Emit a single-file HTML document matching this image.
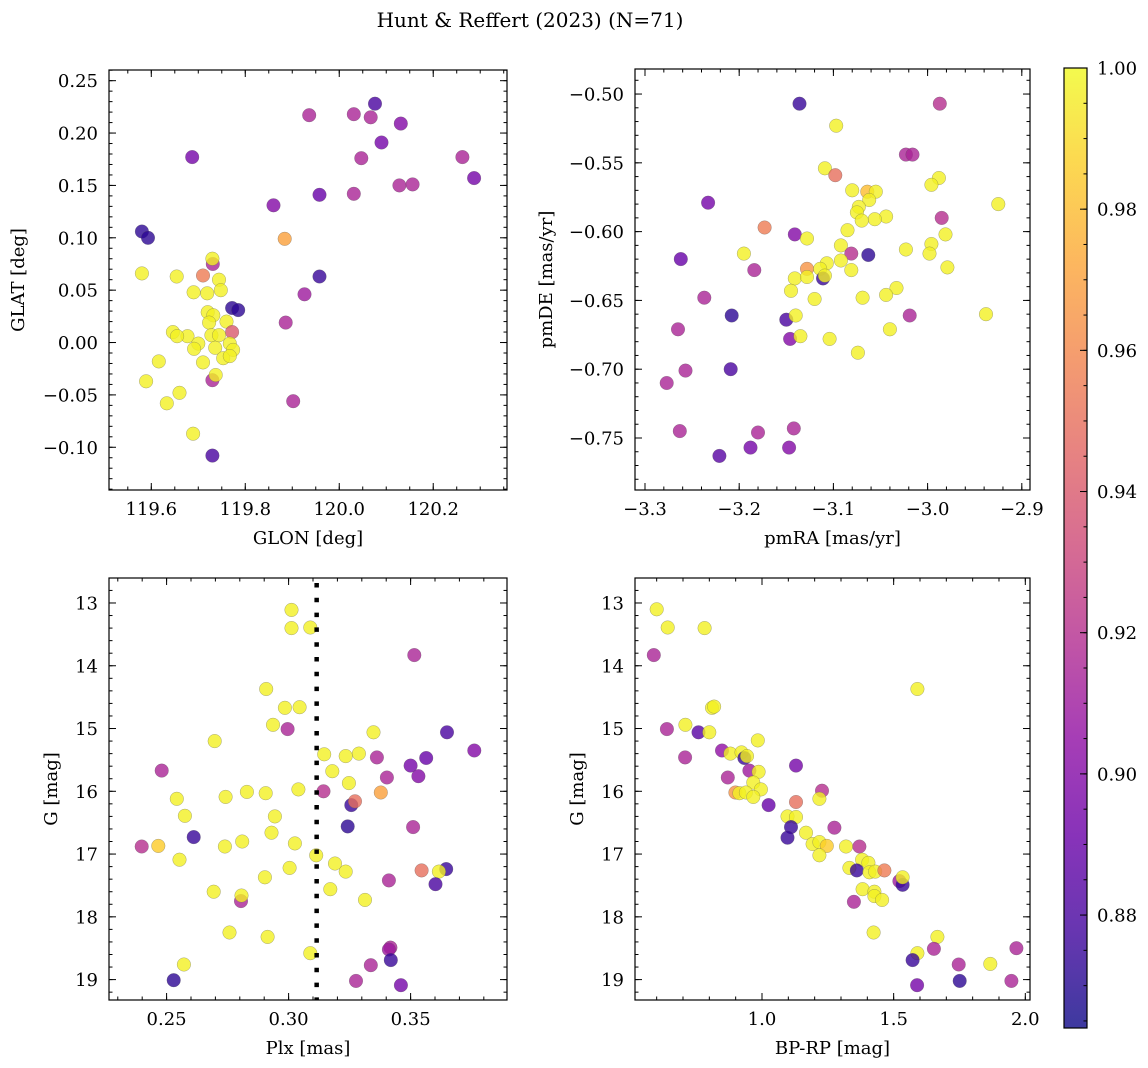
<!DOCTYPE html>
<html><head><meta charset="utf-8"><style>
html,body{margin:0;padding:0;background:#fff;}
svg{display:block;font-family:"DejaVu Serif","Liberation Serif",serif;}
</style></head><body>
<svg id="fig" width="1148" height="1068" viewBox="0 0 1148 1068" xmlns="http://www.w3.org/2000/svg">
<defs><linearGradient id="plasma" x1="0" y1="1" x2="0" y2="0">
<stop offset="0" stop-color="#0d0887"/><stop offset="0.1" stop-color="#41049d"/><stop offset="0.2" stop-color="#6a00a8"/><stop offset="0.3" stop-color="#8f0da4"/><stop offset="0.4" stop-color="#b12a90"/><stop offset="0.5" stop-color="#cc4778"/><stop offset="0.6" stop-color="#e16462"/><stop offset="0.7" stop-color="#f2844b"/><stop offset="0.8" stop-color="#fca636"/><stop offset="0.9" stop-color="#fcce25"/><stop offset="1" stop-color="#f0f921"/>
</linearGradient></defs>
<text x="530" y="27" font-size="20" text-anchor="middle">Hunt &amp; Reffert (2023) (N=71)</text>
</svg>
<script>
// ---- data: top-left (GLON vs GLAT)
const tlGlon=[120.076,119.936,120.031,120.067,120.131,120.090,119.687,120.047,120.262,120.287,120.128,120.156,119.958,120.031,119.860,119.580,119.593,119.884,119.731,119.730,119.580,119.654,119.710,119.958,119.744,119.690,119.719,119.748,119.926,119.772,119.785,119.720,119.732,119.886,119.723,119.760,119.646,119.772,119.728,119.744,119.677,119.655,119.700,119.691,119.736,119.767,119.774,119.753,119.767,119.616,119.710,119.730,119.737,119.589,119.660,119.633,119.902,119.689,119.730];
const tlGlat=[0.228,0.217,0.218,0.215,0.209,0.191,0.177,0.176,0.177,0.157,0.150,0.151,0.141,0.142,0.131,0.106,0.100,0.099,0.075,0.080,0.066,0.063,0.064,0.063,0.060,0.048,0.047,0.050,0.046,0.033,0.031,0.029,0.026,0.019,0.019,0.020,0.010,0.010,0.007,0.007,0.006,0.006,-0.001,-0.006,-0.005,-0.001,-0.007,-0.015,-0.013,-0.018,-0.019,-0.036,-0.031,-0.037,-0.048,-0.058,-0.056,-0.087,-0.108];
const tlProb=[.88,.915,.915,.915,.90,.895,.895,.915,.915,.895,.915,.915,.89,.915,.90,.872,.872,.97,.915,.997,.997,.997,.955,.875,.997,.997,.997,.997,.91,.872,.872,.997,.997,.915,.997,.997,.997,.94,.997,.997,.997,.997,.997,.997,.997,.997,.997,.997,.997,.997,.997,.915,.997,.997,.997,.997,.915,.997,.88];
// ---- data: top-right (pmRA vs pmDE)
const trPmra=[-3.136,-2.987,-3.097,-3.023,-3.016,-3.109,-3.098,-2.988,-2.996,-3.080,-3.064,-3.055,-3.062,-3.233,-2.925,-3.073,-3.075,-3.044,-3.056,-3.070,-2.985,-3.173,-3.141,-3.128,-3.085,-2.981,-3.092,-2.996,-3.023,-2.998,-3.063,-3.081,-3.195,-3.262,-3.092,-3.107,-3.184,-3.128,-3.114,-3.081,-2.979,-3.111,-3.109,-3.141,-3.128,-3.145,-3.033,-3.237,-3.120,-3.069,-3.044,-3.208,-2.938,-3.019,-3.150,-3.140,-3.265,-3.040,-3.146,-3.135,-3.104,-3.074,-3.209,-3.257,-3.277,-3.263,-3.180,-3.142,-3.188,-3.147,-3.221];
const trPmde=[-0.507,-0.507,-0.523,-0.544,-0.544,-0.554,-0.559,-0.561,-0.566,-0.570,-0.571,-0.571,-0.577,-0.579,-0.580,-0.582,-0.586,-0.589,-0.591,-0.592,-0.590,-0.597,-0.602,-0.605,-0.599,-0.602,-0.610,-0.609,-0.613,-0.616,-0.617,-0.616,-0.616,-0.620,-0.621,-0.623,-0.628,-0.627,-0.627,-0.628,-0.626,-0.634,-0.632,-0.634,-0.633,-0.643,-0.641,-0.648,-0.649,-0.648,-0.646,-0.661,-0.660,-0.661,-0.664,-0.661,-0.671,-0.671,-0.678,-0.676,-0.678,-0.688,-0.700,-0.701,-0.710,-0.745,-0.746,-0.743,-0.757,-0.757,-0.763];
const trProb=[.875,.92,.997,.915,.915,.997,.95,.997,.997,.997,.98,.997,.997,.895,.997,.997,.997,.997,.997,.997,.92,.955,.90,.997,.997,.997,.997,.997,.997,.997,.872,.92,.997,.89,.997,.997,.915,.965,.997,.997,.997,.875,.997,.997,.997,.997,.997,.915,.997,.997,.997,.872,.997,.915,.88,.997,.915,.997,.90,.997,.997,.997,.88,.915,.915,.915,.915,.915,.895,.90,.885];
// ---- data: bottom-left (Plx vs G)
const blPlx=[0.3012,0.3012,0.3089,0.3515,0.2908,0.2985,0.3045,0.2936,0.2996,0.2697,0.3348,0.3649,0.3761,0.3146,0.3234,0.3288,0.3362,0.3564,0.3500,0.3532,0.2480,0.3179,0.3403,0.3247,0.3143,0.3378,0.3040,0.2829,0.2906,0.2742,0.2542,0.3257,0.3272,0.2575,0.2944,0.3242,0.3510,0.2930,0.2611,0.2398,0.2466,0.2739,0.2810,0.3026,0.2553,0.3113,0.3190,0.3004,0.3234,0.3545,0.3646,0.3616,0.3602,0.2903,0.3411,0.3171,0.2693,0.2805,0.2807,0.3313,0.2758,0.2914,0.3089,0.3417,0.3411,0.3419,0.3337,0.2571,0.2529,0.3276,0.3460];
const blG=[13.11,13.40,13.39,13.83,14.37,14.67,14.66,14.94,15.01,15.20,15.06,15.06,15.35,15.41,15.44,15.40,15.46,15.47,15.59,15.76,15.67,15.68,15.78,15.87,16.00,16.02,15.97,16.01,16.03,16.09,16.12,16.22,16.16,16.39,16.40,16.56,16.57,16.66,16.73,16.88,16.87,16.88,16.80,16.83,17.09,17.02,17.15,17.22,17.28,17.26,17.24,17.28,17.48,17.37,17.42,17.56,17.60,17.75,17.66,17.73,18.25,18.32,18.58,18.49,18.52,18.69,18.77,18.76,19.01,19.02,19.09];
const blProb=[.997,.997,.997,.915,.997,.997,.997,.997,.915,.997,.997,.88,.90,.997,.997,.997,.915,.89,.895,.90,.915,.997,.915,.997,.92,.97,.997,.997,.997,.997,.997,.875,.95,.997,.997,.872,.915,.997,.875,.92,.985,.997,.997,.997,.997,.997,.997,.997,.997,.95,.875,.997,.88,.997,.915,.997,.997,.915,.997,.997,.997,.997,.997,.915,.91,.875,.915,.997,.872,.915,.895];
// ---- data: bottom-right (BP-RP vs G)
const brBprp=[0.600,0.642,0.782,0.589,1.590,0.810,0.818,0.639,0.709,0.759,0.800,0.984,0.708,0.848,0.880,0.922,0.933,0.943,1.129,0.952,0.987,0.870,0.967,0.899,0.914,0.939,0.996,0.967,1.025,1.228,1.218,1.129,1.097,1.129,1.110,1.097,1.275,1.167,1.192,1.218,1.246,1.218,1.319,1.370,1.380,1.404,1.332,1.360,1.408,1.430,1.465,1.522,1.534,1.534,1.382,1.427,1.427,1.456,1.349,1.424,1.666,1.653,1.966,1.590,1.572,1.747,1.867,1.589,1.751,1.947];
const brG=[13.10,13.39,13.40,13.83,14.37,14.67,14.65,15.01,14.94,15.06,15.06,15.19,15.46,15.35,15.40,15.38,15.47,15.44,15.59,15.67,15.69,15.78,15.86,16.02,16.03,16.02,15.97,16.09,16.22,15.99,16.12,16.17,16.40,16.41,16.57,16.74,16.58,16.66,16.84,16.81,16.87,17.02,16.88,16.88,17.09,17.14,17.22,17.26,17.29,17.28,17.26,17.43,17.49,17.37,17.56,17.60,17.67,17.73,17.76,18.25,18.32,18.51,18.50,18.58,18.69,18.76,18.75,19.09,19.02,19.02];
const brProb=[.997,.997,.997,.915,.997,.997,.997,.915,.997,.885,.997,.997,.915,.905,.997,.997,.875,.997,.895,.91,.997,.915,.997,.965,.997,.997,.997,.997,.89,.92,.997,.95,.997,.997,.875,.875,.915,.997,.997,.997,.985,.997,.997,.92,.997,.997,.997,.875,.997,.997,.955,.91,.875,.997,.997,.997,.997,.997,.915,.997,.997,.915,.915,.997,.875,.915,.997,.895,.872,.915];
const plxCut=0.3115;
const cbTicks=[0.88,0.90,0.92,0.94,0.96,0.98,1.00];

const NS="http://www.w3.org/2000/svg";
const svg=document.getElementById('fig');
const VMIN=0.864, VMAX=1.0;
const stops=["#0d0887","#41049d","#6a00a8","#8f0da4","#b12a90","#cc4778","#e16462","#f2844b","#fca636","#fcce25","#f0f921"];
function hex(h){return [1,3,5].map(i=>parseInt(h.substr(i,2),16));}
function plasma(v){let t=(v-VMIN)/(VMAX-VMIN);t=Math.max(0,Math.min(1,t))*10;let i=Math.min(9,Math.floor(t)),f=t-i;const a=hex(stops[i]),b=hex(stops[i+1]);return 'rgb('+a.map((c,k)=>Math.round(c+(b[k]-c)*f)).join(',')+')';}
function el(tag,attrs,parent){const e=document.createElementNS(NS,tag);for(const k in attrs)e.setAttribute(k,attrs[k]);(parent||svg).appendChild(e);return e;}
function fmt(v,d){const s=Math.abs(v).toFixed(d);return (v<-1e-9?'\u2212':'')+s;}

function panel(name,box,xr,yr,xt,yt,dx,dy,xlab,ylab,xs,ys,ps,ylabX,invertY){
  const g=el('g',{});
  
  
  const X=v=>box.x0+(v-xr[0])/(xr[1]-xr[0])*(box.x1-box.x0);
  const Y=invertY? v=>box.y0+(v-yr[0])/(yr[1]-yr[0])*(box.y1-box.y0) : v=>box.y1-(v-yr[0])/(yr[1]-yr[0])*(box.y1-box.y0);
  const pts=el('g',{},g);
  
  
  for(let i=0;i<xs.length;i++){
    const c=el('circle',{cx:X(xs[i]).toFixed(1),cy:Y(ys[i]).toFixed(1),r:6.8,fill:plasma(ps[i]),'fill-opacity':0.8,stroke:'#555','stroke-opacity':0.5,'stroke-width':0.5},pts);
    
    
  }
  const fr=el('rect',{x:box.x0,y:box.y0,width:box.x1-box.x0,height:box.y1-box.y0,fill:'none',stroke:'#000','stroke-width':1.2},g);
  
  
  const tk=el('g',{stroke:'#000','stroke-width':1},g);
  
  
  const lo=Math.min(xr[0],xr[1]),hi=Math.max(xr[0],xr[1]);
  for(let v=Math.ceil(lo/dx)*dx;v<=hi;v+=dx){const x=X(v);el('line',{x1:x,x2:x,y1:box.y1,y2:box.y1-3.5},tk);el('line',{x1:x,x2:x,y1:box.y0,y2:box.y0+3.5},tk);}
  const ylo=Math.min(yr[0],yr[1]),yhi=Math.max(yr[0],yr[1]);
  for(let v=Math.ceil(ylo/dy-1e-6)*dy;v<=yhi;v+=dy){const y=Y(v);el('line',{x1:box.x0,x2:box.x0+3.5,y1:y,y2:y},tk);el('line',{x1:box.x1,x2:box.x1-3.5,y1:y,y2:y},tk);}
  const xl=el('g',{'font-size':18,'text-anchor':'middle'},g);
  
  
  xt.vals.forEach(v=>{const x=X(v);el('line',{x1:x,x2:x,y1:box.y1,y2:box.y1-7},tk);el('line',{x1:x,x2:x,y1:box.y0,y2:box.y0+7},tk);const t=el('text',{x:x,y:box.y1+25},xl);t.textContent=fmt(v,xt.d);});
  const yl=el('g',{'font-size':18,'text-anchor':'end'},g);
  
  
  yt.vals.forEach(v=>{const y=Y(v);el('line',{x1:box.x0,x2:box.x0+7,y1:y,y2:y},tk);el('line',{x1:box.x1,x2:box.x1-7,y1:y,y2:y},tk);const t=el('text',{x:box.x0-11,y:y+6.5},yl);t.textContent=fmt(v,yt.d);});
  const xa=el('text',{x:(box.x0+box.x1)/2,y:box.y1+54,'font-size':18,'text-anchor':'middle'},g);
  
  
  xa.textContent=xlab;
  const cy=(box.y0+box.y1)/2;
  const ya=el('text',{x:ylabX,y:cy,'font-size':18,'text-anchor':'middle',transform:'rotate(-90 '+ylabX+' '+cy+')'},g);
  
  
  ya.textContent=ylab;
  return {X,Y,g,box};
}

panel('panel-glon-glat',{x0:109,x1:507,y0:70,y1:490},[119.51,120.357],[-0.1408,0.2602],
  {vals:[119.6,119.8,120.0,120.2],d:1},{vals:[-0.10,-0.05,0,0.05,0.10,0.15,0.20,0.25],d:2},0.05,0.01,'GLON [deg]','GLAT [deg]',tlGlon,tlGlat,tlProb,24,false);
panel('panel-pm',{x0:635,x1:1030,y0:69,y1:490},[-3.3106,-2.8913],[-0.7878,-0.4818],
  {vals:[-3.3,-3.2,-3.1,-3.0,-2.9],d:1},{vals:[-0.75,-0.70,-0.65,-0.60,-0.55,-0.50],d:2},0.02,0.01,'pmRA [mas/yr]','pmDE [mas/yr]',trPmra,trPmde,trProb,552,false);
const bl=panel('panel-plx-g',{x0:109,x1:507,y0:578,y1:1000},[0.2264,0.3895],[12.602,19.325],
  {vals:[0.25,0.30,0.35],d:2},{vals:[13,14,15,16,17,18,19],d:0},0.01,0.2,'Plx [mas]','G [mag]',blPlx,blG,blProb,57,true);
panel('panel-cmd',{x0:635,x1:1030,y0:578,y1:1000},[0.5177,2.0178],[12.602,19.325],
  {vals:[1.0,1.5,2.0],d:1},{vals:[13,14,15,16,17,18,19],d:0},0.1,0.2,'BP-RP [mag]','G [mag]',brBprp,brG,brProb,583,true);

const cut=el('line',{x1:bl.X(plxCut),x2:bl.X(plxCut),y1:583,y2:1000,stroke:'#000','stroke-width':4.5,'stroke-dasharray':'4.5 10.3'});



const cbx0=1064,cbx1=1087,cby0=68,cby1=1028;
const CY=v=>cby1-(v-VMIN)/(VMAX-VMIN)*(cby1-cby0);
const cb=el('g',{});


el('rect',{x:cbx0,y:cby0,width:cbx1-cbx0,height:cby1-cby0,fill:'url(#plasma)','fill-opacity':0.8,stroke:'#000','stroke-width':1.2},cb);
const ctk=el('g',{stroke:'#000','stroke-width':1},cb);
for(let v=0.865;v<=1.0001;v+=0.005){el('line',{x1:cbx1,x2:cbx1-3.5,y1:CY(v),y2:CY(v)},ctk);}
const cl=el('g',{'font-size':18},cb);


cbTicks.forEach(v=>{const y=CY(v);el('line',{x1:cbx1,x2:cbx1-7,y1:y,y2:y},ctk);const t=el('text',{x:1097,y:y+6.5},cl);t.textContent=v.toFixed(2);});
</script>
</body></html>
